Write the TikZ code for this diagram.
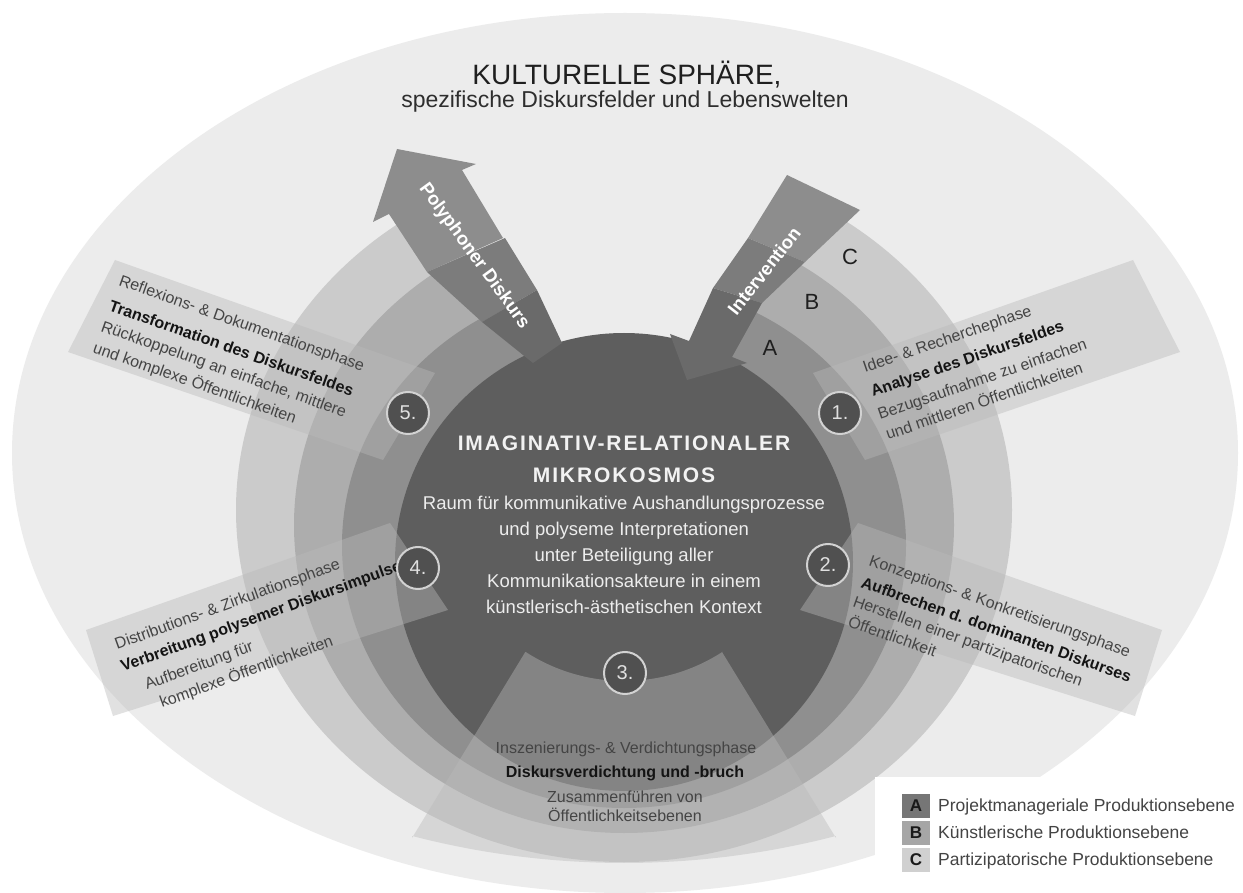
\documentclass[tikz,border=0pt]{standalone}
\usepackage{fontspec}
\setmainfont{Liberation Sans}
\definecolor{outerc}{HTML}{ECECEC}
\definecolor{ringC}{HTML}{CBCBCB}
\definecolor{ringB}{HTML}{ADADAD}
\definecolor{ringA}{HTML}{8F8F8F}
\definecolor{coreC}{HTML}{5E5E5E}
\definecolor{boxc}{HTML}{B9B9B9}
\definecolor{arr1}{HTML}{8D8D8D}
\definecolor{arr2}{HTML}{7C7C7C}
\definecolor{arr3}{HTML}{6A6A6A}
\definecolor{numfill}{HTML}{505050}
\definecolor{numdraw}{HTML}{D2D2D2}
\definecolor{ptextc}{HTML}{444444}
\definecolor{legA}{HTML}{767676}
\definecolor{legB}{HTML}{A6A6A6}
\definecolor{legC}{HTML}{D0D0D0}
\begin{document}
\begin{tikzpicture}[x=1pt,y=-1pt,
  phasebox/.style={fill=boxc, fill opacity=0.42},
  ptext/.style={anchor=base west, inner sep=0pt, text=ptextc, font=\fontsize{16}{18}\selectfont},
  pbold/.style={anchor=base west, inner sep=0pt, text=black!92, font=\fontsize{16}{18}\selectfont\bfseries},
  ctext/.style={anchor=base, inner sep=0pt, text=white!93!black, font=\fontsize{18.5}{20}\selectfont},
  chead/.style={anchor=base, inner sep=0pt, text=white!95!black, font=\fontsize{21}{24}\selectfont\bfseries\addfontfeature{LetterSpace=9}},
  numc/.style={circle, fill=numfill, draw=numdraw, line width=2pt, minimum size=42pt, inner sep=0pt, text=white!88!black, font=\fontsize{20}{20}\selectfont},
  ringlbl/.style={inner sep=0pt, text=black!88, font=\fontsize{22}{22}\selectfont},
  arrtext/.style={inner sep=0pt, text=white, font=\fontsize{18.5}{19}\selectfont\bfseries},
  legsq/.style={minimum width=28pt, minimum height=24pt, inner sep=0pt, font=\fontsize{17}{17}\selectfont\bfseries, text=black!90},
  legtext/.style={anchor=base west, inner sep=0pt, text=ptextc, font=\fontsize{17.5}{20}\selectfont}
]
\useasboundingbox (0,0) rectangle (1243,893);
\fill[white] (0,0) rectangle (1243,893);
% outer sphere
\fill[outerc] (625,453) ellipse [x radius=613pt, y radius=440pt];
% rings
\fill[ringC] (624,510) ellipse [x radius=388pt, y radius=352pt];
\fill[ringB] (624,525) ellipse [x radius=330pt, y radius=308pt];
\fill[ringA] (624,545) ellipse [x radius=282pt, y radius=263pt];
% gap between the arrows
\fill[outerc] (548,353) -- (391,140) -- (861,140) -- (687,380) -- cycle;
% core
\fill[coreC] (624,562) circle [radius=229pt];
% phase boxes
\fill[phasebox] (813,373) -- (1133,260) -- (1180,352) -- (865,460) -- cycle;
\fill[phasebox] (435,373) -- (115,260) -- (68,352) -- (383,460) -- cycle;
\fill[phasebox] (858,523) -- (1162,630) -- (1135,716) -- (800,610) -- cycle;
\fill[phasebox] (390,523) -- (86,630) -- (113,716) -- (448,610) -- cycle;
\fill[phasebox] (412,838) -- plot[domain=-14.5:14.5, samples=40] ({624+846*sin(\x)},{17+846*cos(\x)})
   -- (836,838) -- (722,652) -- plot[domain=57:123, samples=40] ({624+181*cos(\x)},{500+181*sin(\x)}) -- cycle;
% Polyphoner Diskurs arrow
\fill[arr1] (397,149) -- (476,164) -- (462,170) -- (503,238) -- (427,272) -- (389,214) -- (373,222) -- cycle;
\fill[arr2] (427,272) -- (505,238) -- (537,290) -- (482,322) -- cycle;
\fill[arr3] (482,322) -- (537,290) -- (562,343) -- (533,363) -- cycle;
% Intervention arrow
\fill[arr1] (787,175) -- (860,210) -- (805,262) -- (748,238) -- cycle;
\fill[arr2] (748,238) -- (805,262) -- (762,303) -- (713,288) -- cycle;
\fill[arr3] (713,288) -- (762,303) -- (732,357) -- (747,363) -- (687,380) -- (670,334) -- (689,341) -- cycle;
\node[arrtext, rotate=-54] (poly) at (474,256) {Polyphoner Diskurs};
\node[arrtext, rotate=52] (interv) at (764,271) {Intervention};
% ring labels
\node[ringlbl] (lA) at (770,348) {A};
\node[ringlbl] (lB) at (812,302) {B};
\node[ringlbl] (lC) at (850,257) {C};
% title
\node[anchor=base, inner sep=0pt, text=black!88, font=\fontsize{28}{30}\selectfont] (title) at (627,85) {KULTURELLE SPHÄRE,};
\node[anchor=base, inner sep=0pt, text=black!82, font=\fontsize{23}{26}\selectfont] (subtitle) at (625,108) {spezifische Diskursfelder und Lebenswelten};
% center text
\node[chead] (c1) at (624,450) {IMAGINATIV-RELATIONALER};
\node[chead] (c2) at (624,482) {MIKROKOSMOS};
\node[ctext] (c3) at (624,509) {Raum für kommunikative Aushandlungsprozesse};
\node[ctext] (c4) at (624,535) {und polyseme Interpretationen};
\node[ctext] (c5) at (624,561) {unter Beteiligung aller};
\node[ctext] (c6) at (624,587) {Kommunikationsakteure in einem};
\node[ctext] (c7) at (624,613) {künstlerisch-ästhetischen Kontext};
% phase 5
\node[ptext, rotate=-19.5] (p5a) at (118,285) {Reflexions- \& Dokumentationsphase};
\node[pbold, rotate=-19.5] (p5b) at (108,310) {Transformation des Diskursfeldes};
\node[ptext, rotate=-19.5] (p5c) at (100,331) {Rückkoppelung an einfache, mittlere};
\node[ptext, rotate=-19.5] (p5d) at (92,352) {und komplexe Öffentlichkeiten};
% phase 1
\node[ptext, rotate=19] (p1a) at (865,373) {Idee- \& Recherchephase};
\node[pbold, rotate=19] (p1b) at (873,397) {Analyse des Diskursfeldes};
\node[ptext, rotate=19] (p1c) at (880,420) {Bezugsaufnahme zu einfachen};
\node[ptext, rotate=19] (p1d) at (888,440) {und mittleren Öffentlichkeiten};
% phase 2
\node[ptext, rotate=-19.5] (p2a) at (868,565) {Konzeptions- \& Konkretisierungsphase};
\node[pbold, rotate=-19.5] (p2b) at (860,587) {Aufbrechen d. dominanten Diskurses};
\node[ptext, rotate=-19.5] (p2c) at (852,606) {Herstellen einer partizipatorischen};
\node[ptext, rotate=-19.5] (p2d) at (847,626) {Öffentlichkeit};
% phase 4
\node[ptext, rotate=20] (p4a) at (117,650) {Distributions- \& Zirkulationsphase};
\node[pbold, rotate=20] (p4b) at (123,672) {Verbreitung polysemer Diskursimpulse};
\node[ptext, rotate=20] (p4c) at (147,690) {Aufbereitung für};
\node[ptext, rotate=20] (p4d) at (162,708) {komplexe Öffentlichkeiten};
% phase 3
\node[ptext, anchor=base] (p3a) at (626,753) {Inszenierungs- \& Verdichtungsphase};
\node[pbold, anchor=base] (p3b) at (625,777) {Diskursverdichtung und -bruch};
\node[ptext, anchor=base] (p3c) at (625,802) {Zusammenführen von};
\node[ptext, anchor=base] (p3d) at (625,821) {Öffentlichkeitsebenen};
% numbered circles
\node[numc] (n1) at (840,413) {1.};
\node[numc] (n2) at (828,565) {2.};
\node[numc] (n3) at (625,673) {3.};
\node[numc] (n4) at (418,568) {4.};
\node[numc] (n5) at (408,413) {5.};
% legend
\fill[white] (875,777) rectangle (1243,893);
\node[legsq, fill=legA] (qA) at (916,806) {A};
\node[legsq, fill=legB] (qB) at (916,833) {B};
\node[legsq, fill=legC] (qC) at (916,860) {C};
\node[legtext] (tA) at (938,811) {Projektmanageriale Produktionsebene};
\node[legtext] (tB) at (938,838) {Künstlerische Produktionsebene};
\node[legtext] (tC) at (938,865) {Partizipatorische Produktionsebene};
\end{tikzpicture}
\end{document}
